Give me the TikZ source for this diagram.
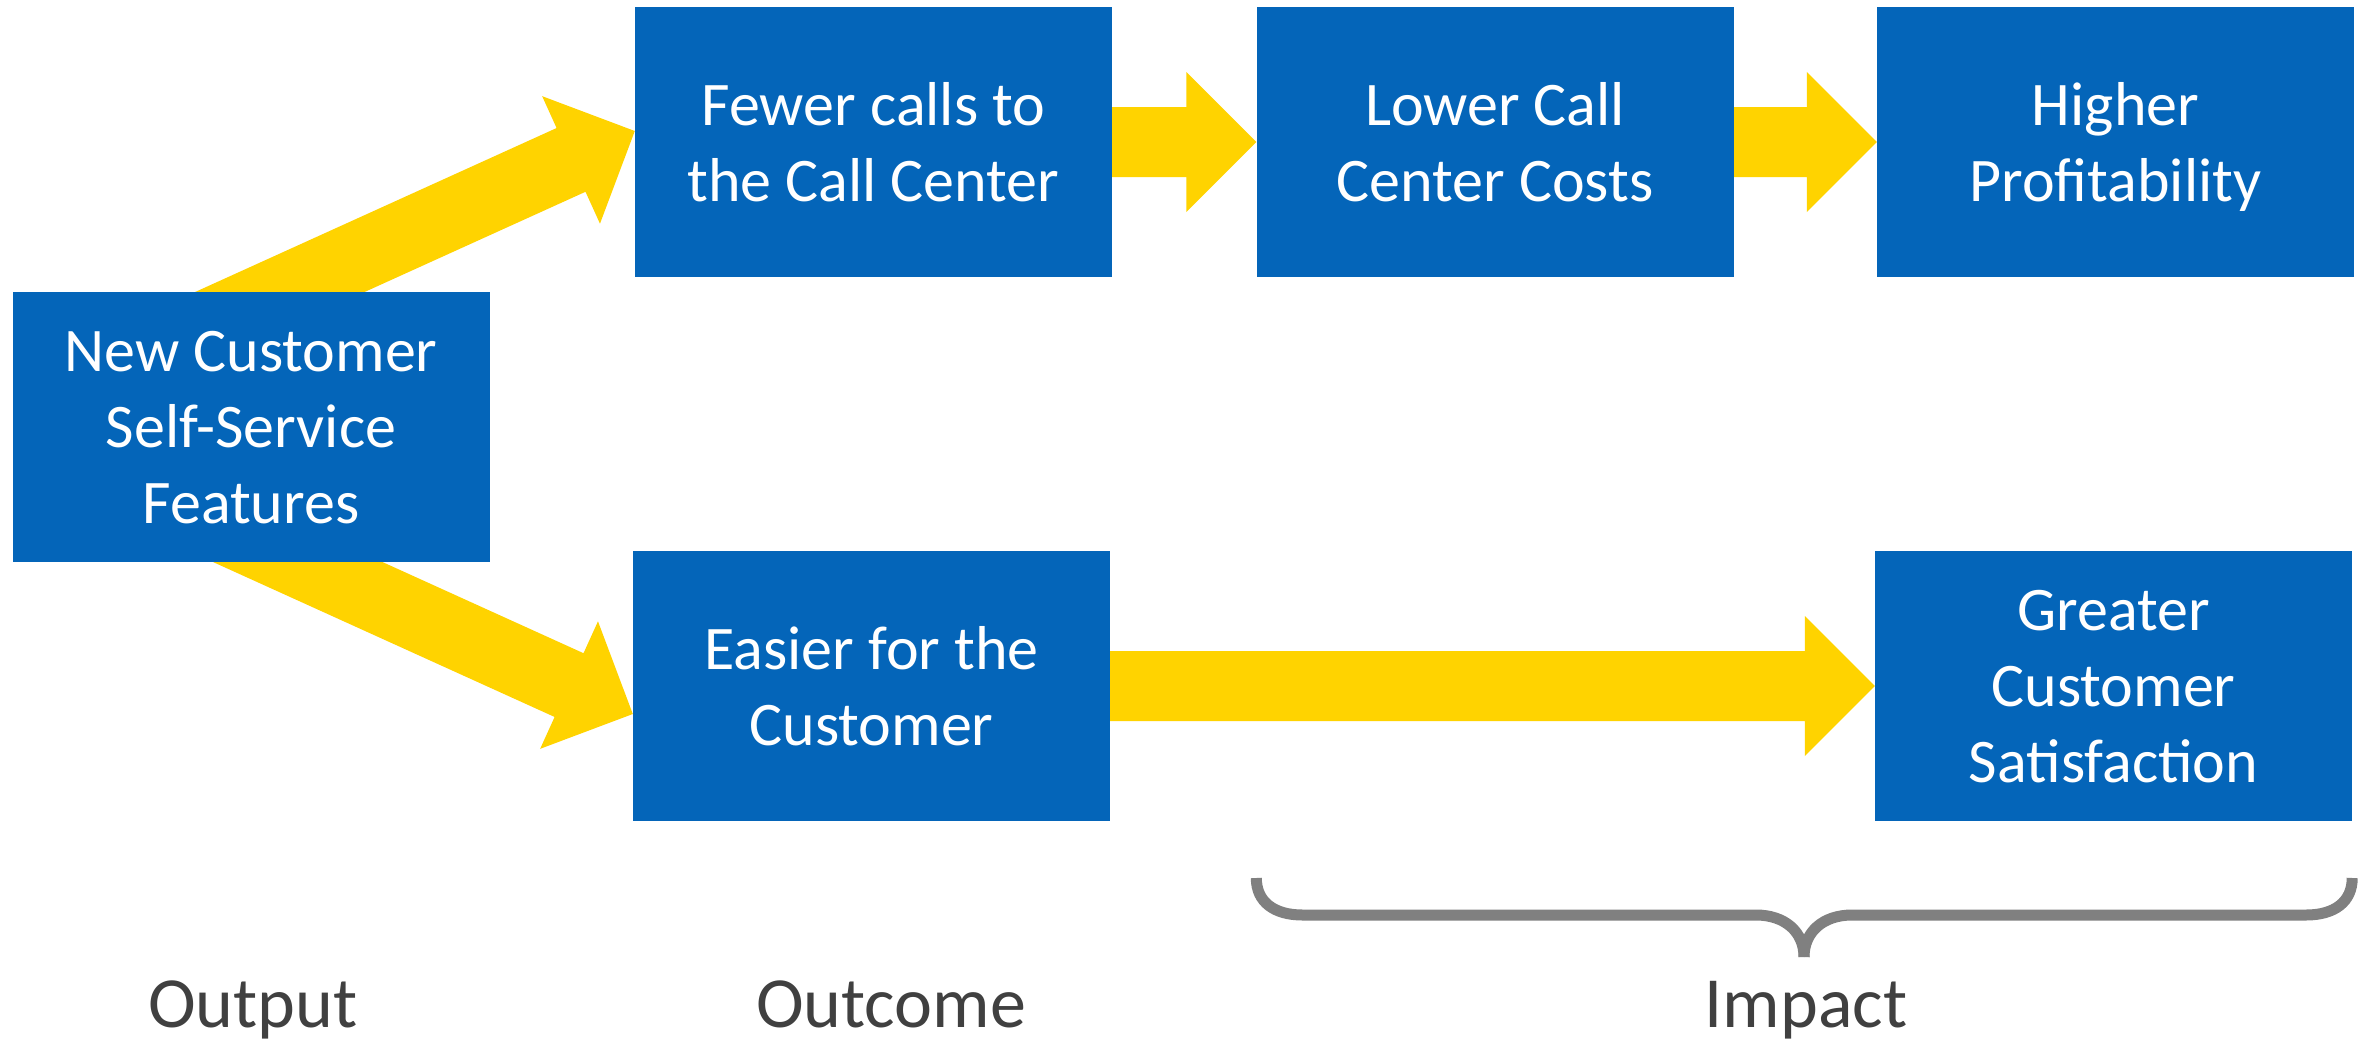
\documentclass[tikz,border=0pt]{standalone}
\usepackage{fontspec}
\setmainfont{Carlito}
\usetikzlibrary{calc,backgrounds}
\definecolor{boxblue}{RGB}{4,101,185}
\definecolor{arrowyellow}{RGB}{255,211,0}
\definecolor{bracegray}{RGB}{128,128,128}
\definecolor{labelgray}{RGB}{64,64,64}
\begin{document}
\begin{tikzpicture}[x=1pt,y=1pt,
  box/.style={fill=boxblue, text=white, minimum width=477pt, minimum height=270pt,
    inner sep=0pt, align=center, text depth=0pt, font=\fontsize{62}{76}\selectfont},
  flow/.style={fill=arrowyellow},
  lbl/.style={text=labelgray, font=\fontsize{72}{86}\selectfont, anchor=base, inner sep=0pt},
  bracestyle/.style={draw=bracegray, line width=11pt}]
\useasboundingbox (0,0) rectangle (2369,-1041);

\node[box] (nc) at (251,-427) {New Customer\\Self-Service\\Features};
\node[box] (fc) at (873.5,-142) {Fewer calls to\\the Call Center};
\node[box] (lc) at (1495,-142) {Lower Call\\Center Costs};
\node[box] (hp) at (2115.5,-142) {Higher\\Profitability};
\node[box] (ec) at (871.5,-686) {Easier for the\\Customer};
\node[box] (gs) at (2113.5,-686) {Greater\\Customer\\Satisfaction};

\coordinate (uptip) at ($(fc.west)+(0,11)$);
\coordinate (downtip) at ($(ec.west)+(0,-28)$);

\begin{pgfonlayer}{background}
  % diagonal arrows
  \begin{scope}[shift={(uptip)}, rotate=24.4]
    \fill[flow] (0,0) -- (-70,70) -- (-70,35) -- (-540,35) -- (-540,-35) -- (-70,-35) -- (-70,-70) -- cycle;
  \end{scope}
  \begin{scope}[shift={(downtip)}, rotate=-24.4]
    \fill[flow] (0,0) -- (-70,70) -- (-70,35) -- (-540,35) -- (-540,-35) -- (-70,-35) -- (-70,-70) -- cycle;
  \end{scope}
  % straight arrows
  \fill[flow] ($(fc.east)+(0,35)$) -- ($(lc.west)+(-70,35)$) -- ($(lc.west)+(-70,70)$) -- (lc.west)
     -- ($(lc.west)+(-70,-70)$) -- ($(lc.west)+(-70,-35)$) -- ($(fc.east)+(0,-35)$) -- cycle;
  \fill[flow] ($(lc.east)+(0,35)$) -- ($(hp.west)+(-70,35)$) -- ($(hp.west)+(-70,70)$) -- (hp.west)
     -- ($(hp.west)+(-70,-70)$) -- ($(hp.west)+(-70,-35)$) -- ($(lc.east)+(0,-35)$) -- cycle;
  \fill[flow] ($(ec.east)+(0,35)$) -- ($(gs.west)+(-70,35)$) -- ($(gs.west)+(-70,70)$) -- (gs.west)
     -- ($(gs.west)+(-70,-70)$) -- ($(gs.west)+(-70,-35)$) -- ($(ec.east)+(0,-35)$) -- cycle;
\end{pgfonlayer}

% brace
\coordinate (brL) at (lc.west |- 0,-878);
\coordinate (brR) at (gs.east |- 0,-878);
\coordinate (brT) at (1804,-957);
\draw[bracestyle] (brL) .. controls ($(brL)+(0,-24)$) and ($(brL)+(18,-37)$) .. ($(brL)+(46,-37)$)
  -- (1756,-915) .. controls (1785,-915) and (1804,-932) .. (brT);
\draw[bracestyle] (brR) .. controls ($(brR)+(0,-24)$) and ($(brR)+(-18,-37)$) .. ($(brR)+(-46,-37)$)
  -- (1852,-915) .. controls (1823,-915) and (1804,-932) .. (brT);

\node[lbl] (output) at (253,-1027) {Output};
\node[lbl] (outcome) at (891,-1027) {Outcome};
\node[lbl] (impact) at (1806,-1027) {Impact};
\end{tikzpicture}
\end{document}
